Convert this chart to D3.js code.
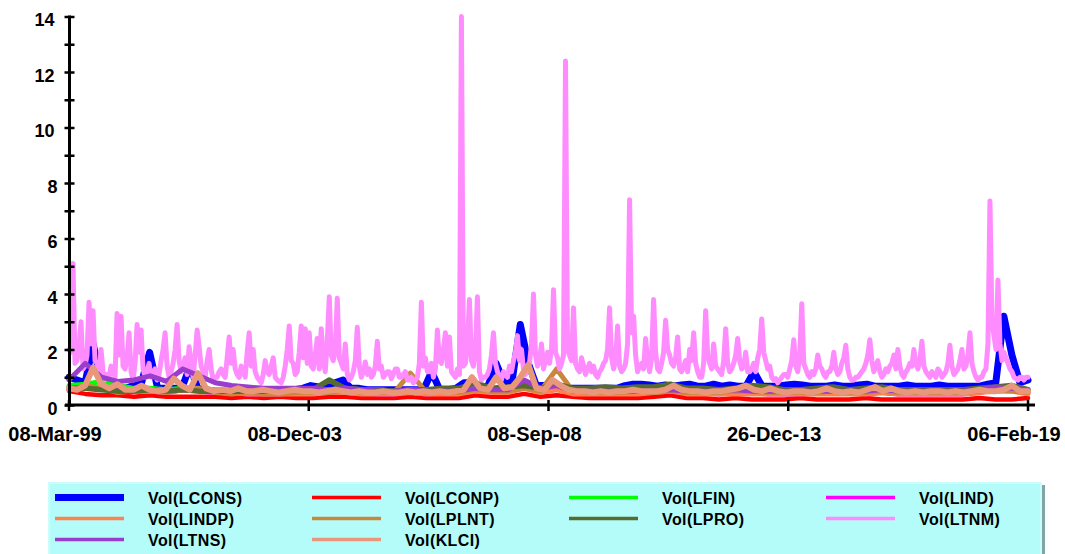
<!DOCTYPE html>
<html><head><meta charset="utf-8">
<script src="https://cdn.jsdelivr.net/npm/d3@7"></script>
<style>html,body{margin:0;padding:0;background:#fff;} svg{display:block;}</style>
</head><body><svg id="c" width="1065" height="554"></svg>
<script>
// ---- data ----
const tickLabels = ["08-Mar-99", "08-Dec-03", "08-Sep-08", "26-Dec-13", "06-Feb-19"];
const yTicks = [0, 2, 4, 6, 8, 10, 12, 14];
const seriesNames = ["Vol(LCONS)", "Vol(LCONP)", "Vol(LFIN)", "Vol(LIND)", "Vol(LINDP)",
                     "Vol(LPLNT)", "Vol(LPRO)", "Vol(LTNM)", "Vol(LTNS)", "Vol(KLCI)"];

const volLCONS = [1.0,0.9,0.8,2.2,0.8,0.7,0.6,0.6,0.7,0.8,1.9,0.6,0.6,0.6,0.6,1.4,0.6,0.55,0.5,0.5,
  0.5,0.55,0.5,0.5,0.5,0.5,0.5,0.5,0.55,0.6,0.7,0.65,0.6,0.8,0.9,0.6,0.6,0.55,0.55,0.55,
  0.55,0.55,0.55,0.55,0.55,1.2,0.55,0.55,0.6,0.8,0.8,0.6,0.7,1.5,0.8,0.9,2.9,1.5,0.7,0.7,
  0.7,0.65,0.6,0.6,0.6,0.6,0.6,0.6,0.6,0.7,0.75,0.75,0.72,0.68,0.72,0.68,0.72,0.75,0.68,0.68,
  0.75,0.68,0.72,0.68,0.68,1.2,0.68,0.68,0.68,0.72,0.75,0.72,0.68,0.68,0.68,0.72,0.68,0.68,0.72,0.75,
  0.68,0.68,0.68,0.68,0.72,0.68,0.68,0.68,0.72,0.68,0.68,0.68,0.68,0.68,0.75,0.8,3.2,1.8,0.8,0.9];
const volLCONP = [0.5,0.4,0.35,0.35,0.3,0.35,0.3,0.3,0.3,0.3,0.25,0.3,0.25,0.3,0.25,0.25,0.3,0.3,0.25,0.25,
  0.25,0.3,0.25,0.25,0.25,0.35,0.3,0.3,0.4,0.3,0.35,0.3,0.25,0.25,0.25,0.25,0.3,0.35,0.25,0.25,
  0.2,0.25,0.2,0.2,0.2,0.25,0.2,0.2,0.2,0.25,0.2,0.2,0.2,0.2,0.2,0.2,0.25,0.2,0.2,0.25];
const volLFIN = [0.7,0.75,0.85,0.7,0.6,0.6,0.55,0.6,0.55,0.55,0.5,0.5,0.5,0.5,0.5,0.5,0.55,0.6,0.55,0.55,
  0.5,0.5,0.55,0.55,0.55,0.6,0.55,0.6,0.7,0.6,0.65,0.55,0.55,0.55,0.55,0.55,0.6,0.6,0.55,0.55,
  0.5,0.55,0.6,0.55,0.5,0.5,0.55,0.55,0.5,0.5,0.55,0.5,0.5,0.5,0.5,0.5,0.55,0.6,0.6,0.55];
const volLIND = [0.55,0.6,0.6,0.5,0.5,0.5,0.45,0.55,0.5,0.45,0.45,0.4,0.4,0.4,0.45,0.45,0.45,0.5,0.45,0.4,
  0.4,0.45,0.4,0.45,0.45,0.55,0.45,0.5,0.65,0.5,0.6,0.45,0.45,0.45,0.45,0.45,0.5,0.55,0.45,0.45,
  0.4,0.45,0.45,0.4,0.4,0.4,0.45,0.45,0.5,0.4,0.45,0.4,0.4,0.4,0.4,0.4,0.45,0.55,0.65,0.45];
const volLINDP = [0.6,0.65,0.6,0.5,0.5,0.5,0.45,0.55,0.55,0.45,0.45,0.4,0.4,0.4,0.4,0.4,0.45,0.45,0.4,0.4,
  0.4,0.45,0.4,0.4,0.4,0.5,0.45,0.45,0.6,0.45,0.55,0.4,0.4,0.4,0.4,0.4,0.45,0.5,0.4,0.4,
  0.4,0.4,0.4,0.4,0.4,0.4,0.4,0.4,0.4,0.4,0.45,0.4,0.4,0.4,0.4,0.4,0.45,0.5,0.5,0.4];
const volLPLNT = [0.55,0.7,0.6,0.45,0.5,0.5,0.45,0.6,0.6,0.45,0.4,0.45,0.4,0.4,0.45,0.45,0.45,0.5,0.45,0.45,
  0.45,1.15,0.45,0.5,0.45,0.55,0.5,0.5,0.6,0.5,1.3,0.5,0.45,0.45,0.45,0.5,0.45,0.5,0.45,0.45,
  0.45,0.5,0.5,0.45,0.45,0.45,0.45,0.5,0.45,0.45,0.5,0.45,0.45,0.45,0.45,0.45,0.5,0.55,0.5,0.45];
const volLPRO = [0.6,0.6,0.55,0.5,0.5,0.55,0.5,0.55,0.5,0.5,0.5,0.5,0.5,0.5,0.55,0.55,0.9,0.6,0.55,0.55,
  0.5,0.55,0.55,0.6,0.6,0.8,0.6,0.65,0.7,0.6,0.75,0.6,0.6,0.65,0.6,0.65,0.65,0.75,0.6,0.6,
  0.55,0.6,0.7,0.65,0.55,0.55,0.6,0.65,0.55,0.6,0.65,0.55,0.55,0.55,0.55,0.55,0.6,0.65,0.7,0.55];
const volLTNM = [
  2.0,1.9, 5.1,1.5, 1.6,2.1, 3.0,1.3, 1.4,1.8, 3.7,2.2, 3.4,1.6, 1.5,1.1, 2.0,1.2, 0.9,1.1,
  1.0,1.4, 1.2,1.0, 3.3,1.8, 3.2,1.4, 1.3,1.7, 2.6,1.2, 0.9,1.5, 2.9,1.9, 2.7,1.3, 1.0,1.2,
  1.5,1.0, 1.1,1.3, 0.9,1.1, 1.6,2.0, 2.6,1.4, 1.0,1.2, 1.5,2.0, 2.9,1.6, 1.2,1.4, 1.7,1.1,
  2.1,1.5, 1.0,1.8, 2.7,2.1, 1.4,1.2, 1.0,1.6, 2.0,1.3, 0.9,1.0, 1.0,1.2, 1.3,1.1, 1.0,1.7,
  2.45,1.5, 2.0,1.3, 1.1,1.0, 1.4,1.2, 1.0,1.9, 2.6,1.4, 2.0,1.2, 1.0,0.9, 0.8,1.1, 1.6,1.2,
  1.1,1.4, 1.7,1.0, 0.9,0.85, 0.8,1.0, 1.4,2.0, 2.85,1.6, 1.5,1.1, 1.2,1.9, 2.85,1.7, 2.75,1.5,
  2.6,1.4, 1.3,1.8, 2.4,1.3, 2.75,1.6, 1.2,2.3, 3.9,1.8, 1.6,2.0, 3.85,1.7, 1.5,1.3, 2.2,1.1,
  0.9,1.0, 1.2,1.6, 2.8,1.4, 1.0,1.2, 1.55,1.1, 1.3,1.0, 1.1,1.4, 2.3,1.3, 1.4,1.0, 1.1,1.2,
  1.2,0.95, 1.1,1.3, 1.3,1.0, 1.0,1.1, 1.2,0.9, 0.9,1.0, 0.8,0.9, 1.0,1.5, 3.7,1.4, 1.7,1.2,
  1.2,1.5, 1.0,1.3, 2.7,1.6, 1.5,2.0, 2.6,1.4, 2.45,1.2, 1.1,1.0, 1.3,1.1, 14.0,1.4, 1.5,2.2,
  3.8,1.6, 1.4,2.0, 3.9,1.2, 0.9,1.0, 1.0,1.1, 1.3,1.8, 2.6,1.5, 1.2,1.0, 0.9,1.2, 1.1,1.0,
  1.4,1.2, 1.6,1.9, 2.5,1.6, 2.0,1.3, 1.1,1.4, 1.5,2.2, 4.0,1.8, 1.4,1.6, 2.2,1.3, 1.6,1.9,
  1.5,2.0, 4.15,1.9, 1.7,1.3, 1.5,1.8, 12.4,2.0, 1.8,1.6, 3.5,1.5, 1.3,1.2, 1.7,1.4, 1.1,1.3,
  1.5,1.2, 1.4,1.1, 1.0,1.2, 1.3,1.5, 1.6,2.0, 3.5,1.7, 1.3,1.6, 2.85,1.4, 1.2,1.3, 1.5,2.2,
  7.4,2.6, 3.2,1.8, 1.2,1.4, 1.5,1.3, 2.4,1.6, 1.2,1.7, 3.8,1.9, 1.3,1.2, 1.5,1.9, 3.05,2.0,
  1.8,1.5, 1.4,1.7, 2.45,1.3, 1.2,1.4, 1.6,1.2, 2.0,1.6, 2.6,1.5, 1.2,1.0, 1.0,1.5, 3.4,1.8,
  1.5,1.3, 2.2,1.4, 1.3,1.2, 1.1,1.6, 2.75,1.5, 1.2,1.3, 1.5,1.8, 2.4,1.6, 1.3,1.4, 1.9,1.2,
  1.2,1.3, 1.5,1.2, 1.7,2.0, 3.1,1.9, 1.6,1.3, 1.4,1.0, 0.9,0.95, 0.8,0.9, 1.0,1.1, 1.1,1.0,
  1.3,1.6, 2.35,1.4, 1.2,1.8, 3.65,1.5, 1.3,1.1, 1.0,1.2, 1.1,1.3, 1.8,1.4, 1.3,1.1, 1.0,1.2,
  1.2,1.4, 1.9,1.3, 1.1,1.2, 1.5,1.7, 2.15,1.3, 1.0,0.9, 0.9,1.0, 1.0,1.1, 1.2,1.3, 1.5,1.8,
  2.35,1.6, 1.2,1.4, 1.6,1.2, 1.0,1.1, 1.3,1.2, 1.4,1.5, 1.8,1.3, 2.0,1.4, 1.1,1.0, 1.2,1.3,
  1.5,1.4, 2.0,1.5, 1.3,1.6, 2.3,1.4, 1.2,1.1, 1.0,1.2, 1.1,1.0, 1.3,1.2, 1.0,1.1, 1.2,1.5,
  2.15,1.4, 1.1,1.2, 1.3,1.6, 2.0,1.3, 1.4,1.8, 2.6,1.5, 1.2,1.0, 0.9,1.0, 1.0,1.2, 1.3,2.2,
  7.35,3.0, 2.5,2.0, 4.5,2.2, 1.6,1.9, 1.7,1.5, 1.3,1.2, 1.0,0.95, 0.9,1.0, 1.0,0.9, 1.0,1.0];
const volLTNS = [0.9,1.5,1.0,0.85,0.9,1.05,0.85,1.3,1.05,0.8,0.7,0.65,0.6,0.6,0.6,0.6,0.55,0.6,0.55,0.5,
  0.5,0.55,0.5,0.5,0.5,0.6,0.55,0.55,0.9,0.6,0.7,0.5,0.5,0.5,0.5,0.5,0.5,0.55,0.5,0.5,
  0.5,0.55,0.5,0.5,0.5,0.5,0.5,0.5,0.5,0.5,0.55,0.5,0.5,0.5,0.5,0.5,0.55,0.65,0.6,0.55];
const volKLCI = [0.6,0.55,0.7,1.35,0.75,0.6,0.75,0.55,0.55,0.7,0.55,0.5,0.55,0.95,0.7,0.55,1.15,0.6,0.5,0.55,
  0.5,0.6,0.5,0.5,0.55,0.5,0.45,0.5,0.55,0.5,0.5,0.45,0.5,0.55,0.5,0.45,0.5,0.45,0.45,0.5,
  0.45,0.45,0.5,0.45,0.5,0.45,0.5,0.45,0.5,0.55,1.0,0.6,0.55,1.0,0.6,0.65,1.0,1.45,0.6,0.55,
  0.9,0.7,0.55,0.5,0.5,0.45,0.5,0.45,0.5,0.5,0.55,0.5,0.5,0.5,0.55,0.7,0.55,0.5,0.5,0.45,
  0.5,0.5,0.55,0.6,0.7,0.55,0.5,0.6,0.5,0.45,0.5,0.5,0.45,0.5,0.6,0.5,0.45,0.5,0.45,0.55,
  0.65,0.5,0.6,0.5,0.45,0.5,0.45,0.5,0.5,0.45,0.5,0.45,0.5,0.55,0.5,0.5,0.55,0.7,0.5,0.5];

const seriesValues = [volLCONS, volLCONP, volLFIN, volLIND, volLINDP, volLPLNT, volLPRO, volLTNM, volLTNS, volKLCI];
const seriesColors = ["#0000ff", "#ff0000", "#00ff00", "#ff00ff", "#ff8050", "#c8873c", "#566b30", "#ff8cff", "#9a3dcc", "#e9977b"];
const seriesWidths = [7, 4.5, 5, 5, 5, 5, 5.5, 5, 5, 6];

// ---- drawing ----
const svg = d3.select("#c");
svg.append("rect").attr("width", 1065).attr("height", 554).attr("fill", "#fff");

const x = d3.scaleLinear().domain([0, 1]).range([69, 1028]);
const y = d3.scaleLinear().domain([0, 14]).range([405, 16.5]);

const plot = svg.append("g");
seriesValues.forEach((vals, s) => {
  const n = vals.length;
  const line = d3.line().x((d, i) => x(i / (n - 1))).y(d => y(d));
  plot.append("path").datum(vals)
    .attr("d", line)
    .attr("fill", "none")
    .attr("stroke", seriesColors[s])
    .attr("stroke-width", seriesWidths[s])
    .attr("stroke-linejoin", "round")
    .attr("stroke-linecap", "round");
});

// Y axis
const yAxis = d3.axisLeft(y).tickValues(d3.range(0, 15, 1)).tickSize(5)
  .tickFormat(d => yTicks.includes(d) ? d : "");
const gy = svg.append("g").attr("transform", "translate(69.5,0)").call(yAxis);
gy.select(".domain").remove();
gy.append("line").attr("x1", 0).attr("x2", 0).attr("y1", y(14) - 1).attr("y2", y(0) + 1)
  .attr("stroke", "#000").attr("stroke-width", 3);
gy.selectAll(".tick line").attr("x1", 5).attr("x2", -5).attr("stroke", "#000").attr("stroke-width", 2.5);
gy.selectAll(".tick text").attr("x", d => d >= 10 ? -15 : -12).attr("dy", "0.5em")
  .attr("font-family", "'Liberation Sans', Arial, sans-serif").attr("font-weight", "bold")
  .attr("font-size", 18).attr("fill", "#000");

// X axis
const gx = svg.append("g");
gx.append("line").attr("x1", 65).attr("x2", 1035).attr("y1", 405).attr("y2", 405)
  .attr("stroke", "#000").attr("stroke-width", 3);
tickLabels.forEach((lab, k) => {
  const px = x(k / (tickLabels.length - 1));
  gx.append("line").attr("x1", px).attr("x2", px).attr("y1", 400).attr("y2", 411)
    .attr("stroke", "#000").attr("stroke-width", 2.5);
  gx.append("text").attr("x", px - 14).attr("y", 441).attr("text-anchor", "middle")
    .attr("font-family", "'Liberation Sans', Arial, sans-serif").attr("font-weight", "bold")
    .attr("font-size", 20).attr("fill", "#000").text(lab);
});

// Legend
const lg = svg.append("g");
lg.append("rect").attr("x", 1041).attr("y", 485).attr("width", 4).attr("height", 80).attr("fill", "#7fa7a7");
lg.append("rect").attr("x", 49).attr("y", 483).attr("width", 992).attr("height", 80)
  .attr("fill", "#b3fcf9").attr("stroke", "#cbfdfd").attr("stroke-width", 2);
seriesNames.forEach((name, s) => {
  const col = s % 4, row = Math.floor(s / 4);
  const lx = 55 + col * 257, ly = 497.5 + row * 21;
  lg.append("line").attr("x1", lx).attr("x2", lx + 69).attr("y1", ly).attr("y2", ly)
    .attr("stroke", seriesColors[s]).attr("stroke-width", s === 0 ? 7 : 3.5);
  lg.append("text").attr("x", lx + 93).attr("y", ly + 6)
    .attr("font-family", "'Liberation Sans', Arial, sans-serif").attr("font-weight", "bold")
    .attr("font-size", 16).attr("letter-spacing", 0.4).attr("fill", "#000").text(name);
});
</script>
</body></html>
